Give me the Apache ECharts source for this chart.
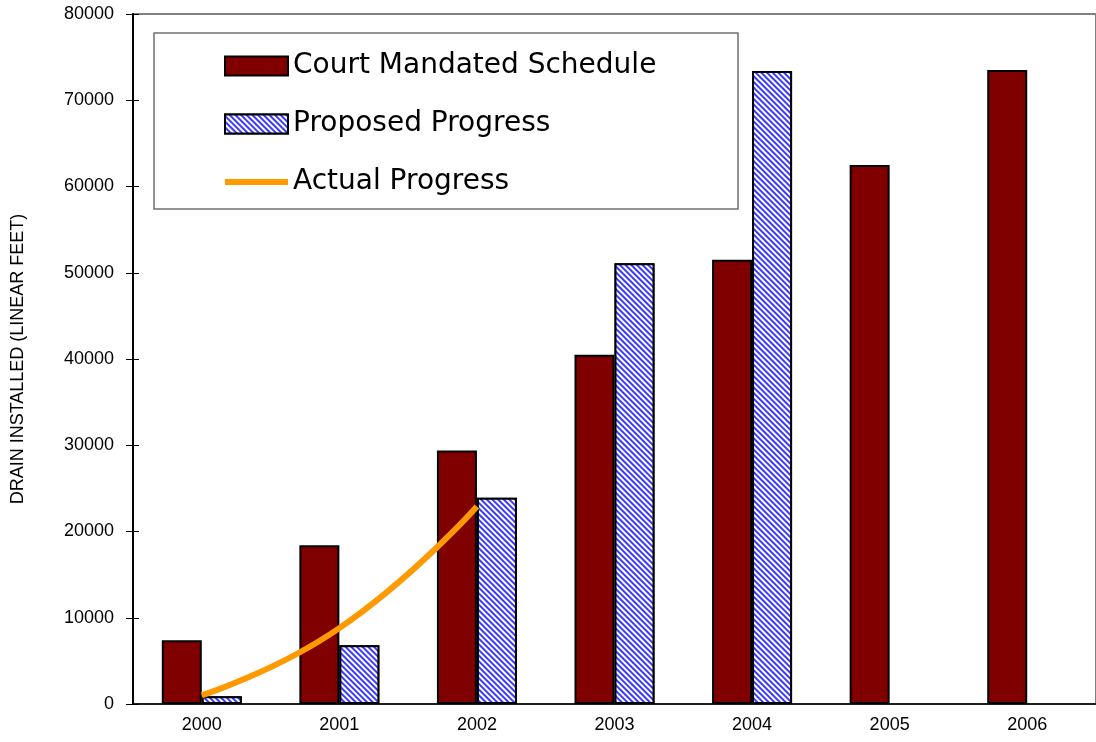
<!DOCTYPE html>
<html>
<head>
<meta charset="utf-8">
<script src="https://cdn.jsdelivr.net/npm/echarts@6/dist/echarts.min.js"></script>
<style>
  html, body { margin: 0; padding: 0; background: #fff; }
  #chart { width: 1096px; height: 742px; }
</style>
</head>
<body>
<div id="chart"></div>
<script>
var years = ['2000', '2001', '2002', '2003', '2004', '2005', '2006'];
var courtMandated = [7400, 18400, 29400, 40500, 51500, 62500, 73500];
var proposed = [900, 6800, 23900, 51100, 73400, null, null];
var actual = [1000, 8800, 22900, null, null, null, null];

var font = 'Liberation Sans';
var chart = echarts.init(document.getElementById('chart'));

// fine blue diagonal hatch on white for the proposed bars
var hatchDecal = {
    symbol: 'rect',
    color: '#3a3aff',
    backgroundColor: '#ffffff',
    dashArrayX: [1, 0],
    dashArrayY: [1.5, 1.5],
    rotation: Math.PI / 4,
    symbolSize: 1
};

var option = {
    animation: false,
    backgroundColor: '#ffffff',
    grid: {
        left: 133, top: 14, width: 972, height: 690,
        show: true, borderColor: '#808080', borderWidth: 2,
        backgroundColor: 'transparent'
    },
    graphic: [{
        type: 'rect',
        z: 0,
        shape: { x: 154, y: 33, width: 584, height: 176 },
        style: { fill: '#ffffff', stroke: '#707070', lineWidth: 1.5 }
    }],
    legend: {
        orient: 'vertical',
        left: 224,
        top: 52,
        padding: 0,
        itemWidth: 63,
        itemHeight: 19,
        itemGap: 30,
        z: 10,
        textStyle: { fontFamily: 'DejaVu Sans', fontSize: 28, lineHeight: 28, color: '#000' },
        data: [
            { name: 'Court Mandated Schedule', icon: 'rect' },
            { name: 'Proposed Progress', icon: 'rect' },
            { name: 'Actual Progress', icon: 'path://M0,0 L63,0 L63,6 L0,6 Z' }
        ]
    },
    xAxis: [{
        type: 'category',
        data: years,
        axisLine: { lineStyle: { color: '#000', width: 1.5 } },
        axisTick: { length: 6, lineStyle: { color: '#000' } },
        axisLabel: { fontFamily: font, fontSize: 18, color: '#000', margin: 12 }
    }, {
        type: 'category',
        position: 'bottom',
        data: years,
        axisLine: { show: false },
        axisTick: { inside: true, length: 6, lineStyle: { color: '#000' } },
        axisLabel: { show: false }
    }],
    yAxis: [{
        type: 'value',
        min: 0, max: 80000, interval: 10000,
        name: 'DRAIN INSTALLED (LINEAR FEET)',
        nameLocation: 'middle',
        nameGap: 106,
        nameTextStyle: { fontFamily: font, fontSize: 18, color: '#000' },
        axisLine: { show: true, lineStyle: { color: '#000', width: 2 } },
        axisTick: { show: true, length: 7, lineStyle: { color: '#000' } },
        axisLabel: {
            fontFamily: font, fontSize: 18, color: '#000', margin: 19,
            formatter: function (v) { return String(v); }
        },
        splitLine: { show: false }
    }, {
        type: 'value',
        position: 'left',
        min: 0, max: 80000, interval: 10000,
        axisLine: { show: false },
        axisTick: { show: true, inside: true, length: 6, lineStyle: { color: '#000' } },
        axisLabel: { show: false },
        splitLine: { show: false }
    }],
    series: [{
        name: 'Court Mandated Schedule',
        type: 'bar',
        data: courtMandated,
        barWidth: 40,
        barGap: '0%',
        itemStyle: { color: '#800000', borderColor: '#000', borderWidth: 2 }
    }, {
        name: 'Proposed Progress',
        type: 'bar',
        data: proposed,
        barWidth: 40,
        barGap: '0%',
        itemStyle: { color: '#ffffff', borderColor: '#000', borderWidth: 2, decal: hatchDecal }
    }, {
        name: 'Actual Progress',
        type: 'line',
        data: actual,
        smooth: true,
        symbol: 'none',
        z: 5,
        lineStyle: { color: '#ff9900', width: 6 },
        itemStyle: { color: '#ff9900' }
    }]
};

chart.setOption(option);
</script>
</body>
</html>
